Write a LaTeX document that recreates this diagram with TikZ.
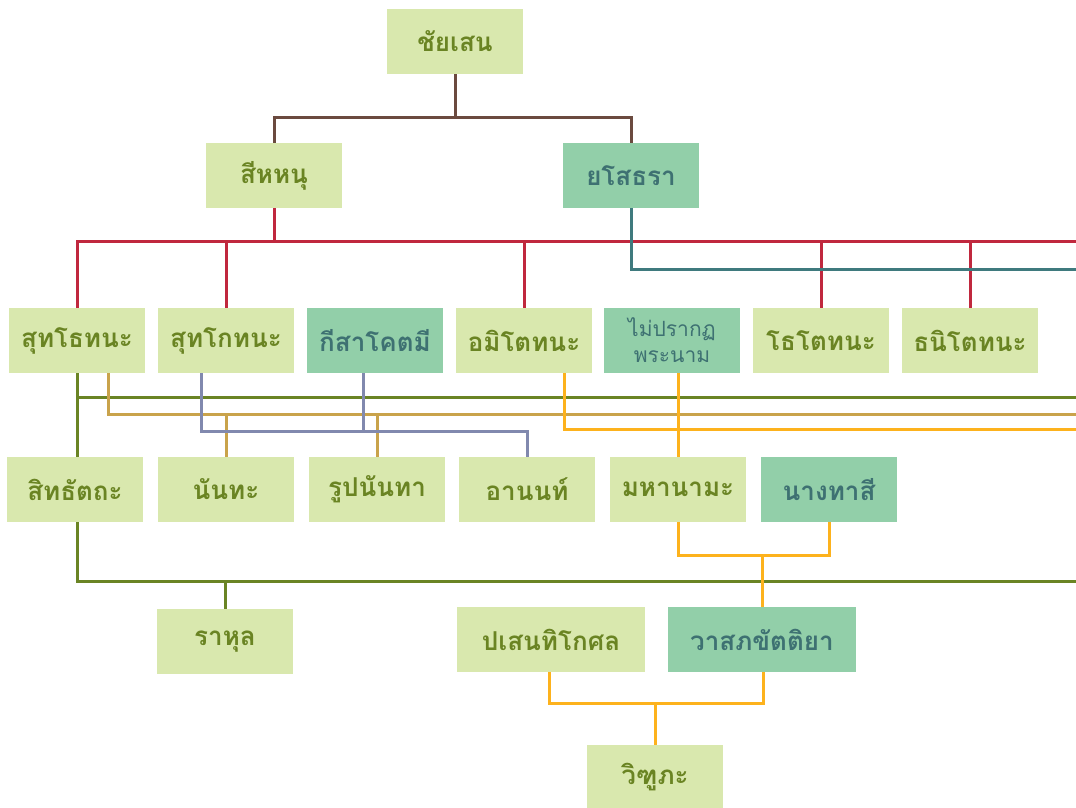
\documentclass[tikz,border=0pt]{standalone}
\usepackage{fontspec}
\newfontfamily\thaifont[Script=Thai]{Loma}
\usepackage{tikz}
\usetikzlibrary{positioning}
\usetikzlibrary{calc}

\definecolor{boxlight}{HTML}{D9E8AE}
\definecolor{boxteal}{HTML}{92CFA9}
\definecolor{textolive}{HTML}{6A8423}
\definecolor{textteal}{HTML}{3E7172}
\definecolor{linebrown}{HTML}{6B4A3F}
\definecolor{linered}{HTML}{C0283E}
\definecolor{lineteal}{HTML}{3F7A7E}
\definecolor{lineolive}{HTML}{6A8424}
\definecolor{linetan}{HTML}{C9A34B}
\definecolor{lineblue}{HTML}{8189AE}
\definecolor{linegold}{HTML}{FDB21D}

\begin{document}
\begin{tikzpicture}[x=1pt,y=-1pt,
person/.style={rectangle,fill=boxlight,text=textolive,minimum width=136pt,minimum height=65pt,inner sep=0pt,
  font=\thaifont\bfseries\fontsize{26}{30}\selectfont},
inlaw/.style={person,fill=boxteal,text=textteal},
wide/.style={minimum width=188pt},
link/.style={line width=3pt}]

\useasboundingbox (0,0) rectangle (1076,808);

% 1. nemzedek
\node[person] (chaiyasena) at (455,41.5) {ชัยเสน};
% 2. nemzedek
\node[person] (sihahanu) at (274,175.5) {สีหหนุ};
\node[inlaw] (yasodhara) at (631,175.5) {ยโสธรา};
% 3. nemzedek
\node[person] (suddhodana) at (77,340.5) {สุทโธทนะ};
\node[person] (sukkodana) at (226,340.5) {สุทโกทนะ};
\node[inlaw] (kisagotami) at (375,340.5) {กีสาโคตมี};
\node[person] (amitodana) at (524,340.5) {อมิโตทนะ};
\node[inlaw,align=center,font=\thaifont\fontsize{21}{26}\selectfont] (unnamed) at (672,340.5) {ไม่ปรากฏ\\พระนาม};
\node[person] (dhotodana) at (821,340.5) {โธโตทนะ};
\node[person] (dhanitodana) at (970,340.5) {ธนิโตทนะ};
% 4. nemzedek
\node[person] (siddhattha) at (75,489.5) {สิทธัตถะ};
\node[person] (nanda) at (226,489.5) {นันทะ};
\node[person] (rupananda) at (377,489.5) {รูปนันทา};
\node[person] (ananda) at (527,489.5) {อานนท์};
\node[person] (mahanama) at (678,489.5) {มหานามะ};
\node[inlaw] (nagamunda) at (829,489.5) {นางทาสี};
% 5. nemzedek
\node[person] (rahula) at (225,641.5) {ราหุล};
\node[person,wide] (pasenadi) at (551,639.5) {ปเสนทิโกศล};
\node[inlaw,wide] (vasabha) at (762,639.5) {วาสภขัตติยา};
% 6. nemzedek
\node[person] (vidudabha) at (655,777.5) {วิฑูภะ};

% a jobb szelen kifuto vonalak vegpontjai
\coordinate (redend) at (1076,241);
\coordinate (tealend) at (1076,269);
\coordinate (oliveend) at (1076,397);
\coordinate (tanend) at (1076,414);
\coordinate (goldend) at (1076,429);
\coordinate (blueline) at (0,431);
\coordinate (oliveend2) at (1076,581);

% chaiyasena gyerekei
\draw[link,linebrown] (chaiyasena.south) -- +(0,43);
\draw[link,linebrown] (sihahanu.north) |- ($(chaiyasena.south)+(0,43)$) -| (yasodhara.north);

% sihahanu es yasodhara gyerekei
\draw[link,linered] (sihahanu.south) -- (sihahanu.south |- redend);
\draw[link,linered] (suddhodana.north) |- (redend);
\foreach \n in {sukkodana,amitodana,dhotodana,dhanitodana}
  \draw[link,linered] (\n.north) -- (\n.north |- redend);
\draw[link,lineteal] (yasodhara.south) |- (tealend);

% suddhodana
\draw[link,lineolive] (suddhodana.south) -- (suddhodana.south |- siddhattha.north);
\draw[link,lineolive] (suddhodana.south |- oliveend) -- (oliveend);
\draw[link,linetan] ($(suddhodana.south)+(31,0)$) |- (tanend);
\draw[link,linetan] (nanda.north) -- (nanda.north |- tanend);
\draw[link,linetan] (rupananda.north) -- (rupananda.north |- tanend);

% sukkodana es kisagotami
\draw[link,lineblue] ($(sukkodana.south)+(-25,0)$) |- (ananda.north |- blueline) -- (ananda.north);
\draw[link,lineblue] ($(kisagotami.south)+(-12,0)$) -- ($(kisagotami.south |- blueline)+(-12,0)$);

% amitodana
\draw[link,linegold] ($(amitodana.south)+(40,0)$) |- (goldend);
\draw[link,linegold] (mahanama.north |- unnamed.south) -- (mahanama.north);

% siddhattha -> rahula
\draw[link,lineolive] ($(siddhattha.south)+(2,0)$) |- (oliveend2);
\draw[link,lineolive] (rahula.north) -- (rahula.north |- oliveend2);

% mahanama es nagamunda -> vasabha
\draw[link,linegold] (mahanama.south) -- ++(0,33) coordinate (mm) -| (nagamunda.south);
\draw[link,linegold] (vasabha.north) -- (vasabha.north |- mm);

% pasenadi es vasabha -> vidudabha
\draw[link,linegold] ($(pasenadi.south)+(-2,0)$) -- ++(0,31) coordinate (pv) -| ($(vasabha.south)+(1,0)$);
\draw[link,linegold] (vidudabha.north) -- (vidudabha.north |- pv);
\end{tikzpicture}
\end{document}
